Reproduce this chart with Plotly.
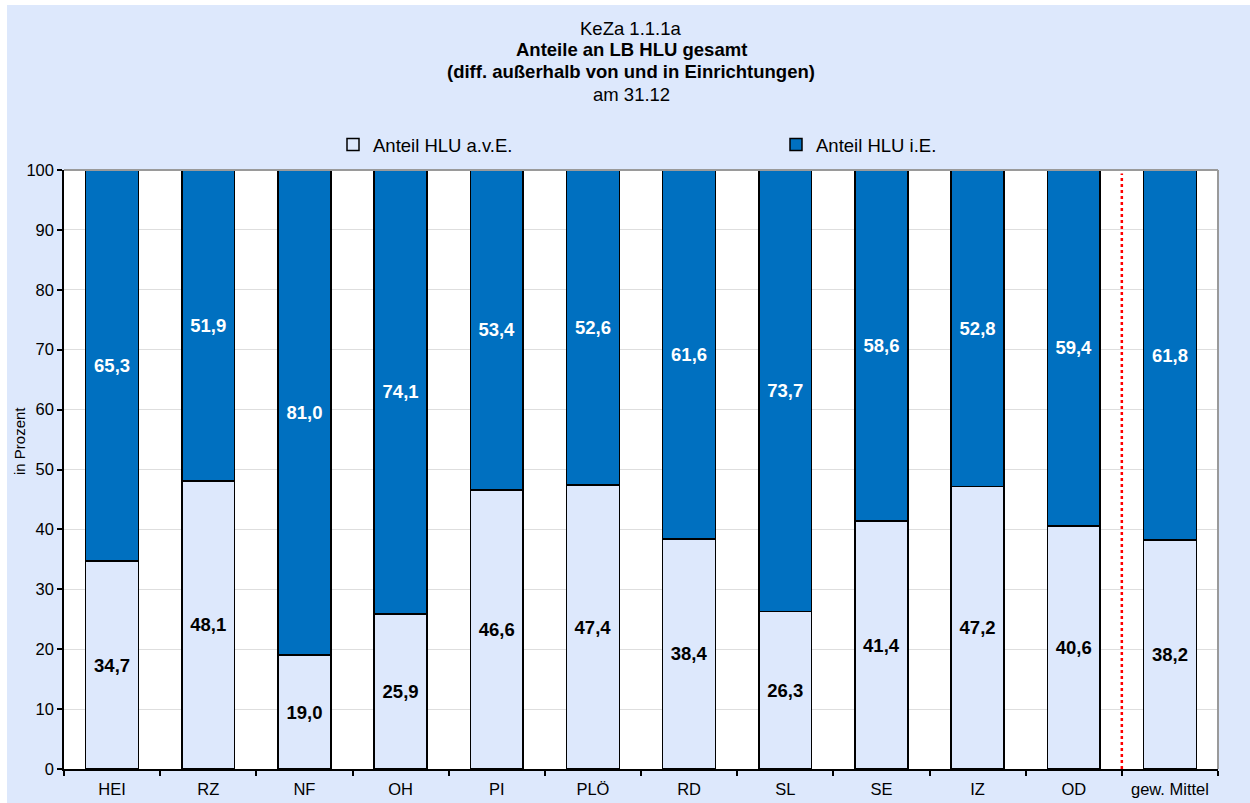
import plotly.graph_objects as go

# Kreise / Städte und gewichtetes Mittel
categories = ["HEI", "RZ", "NF", "OH", "PI", "PLÖ", "RD", "SL", "SE", "IZ", "OD", "gew. Mittel"]

# Anteile in Prozent
anteil_ave = [34.7, 48.1, 19.0, 25.9, 46.6, 47.4, 38.4, 26.3, 41.4, 47.2, 40.6, 38.2]
anteil_ie = [65.3, 51.9, 81.0, 74.1, 53.4, 52.6, 61.6, 73.7, 58.6, 52.8, 59.4, 61.8]

y_ticks = [0, 10, 20, 30, 40, 50, 60, 70, 80, 90, 100]

title_lines = [
    ("KeZa 1.1.1a", False),
    ("Anteile an LB HLU gesamt", True),
    ("(diff. außerhalb von und in Einrichtungen)", True),
    ("am 31.12", False),
]

BG = "#dde8fc"
BLUE = "#0070c0"
FONT = "Arial, Liberation Sans, sans-serif"

W, H = 1250, 803
M_L, M_R, M_T, M_B = 64, 32, 170, 34
PW, PH = W - M_L - M_R, H - M_T - M_B


def px_x(px):
    """Pixel-x auf Papierkoordinate der Zeichenfläche."""
    return (px - M_L) / PW


def px_y(py):
    """Pixel-y (von oben) auf Papierkoordinate der Zeichenfläche."""
    return (H - M_B - py) / PH


fig = go.Figure()

fig.add_trace(go.Bar(
    name="Anteil HLU a.v.E.",
    x=categories,
    y=anteil_ave,
    legend="legend",
    marker=dict(color=BG, line=dict(color="#000000", width=1.5)),
    texttemplate="%{y:.1f}",
    textposition="inside",
    insidetextanchor="middle",
    textangle=0,
    constraintext="none",
    textfont=dict(family=FONT, size=18.5, color="#000000", weight="bold"),
))

fig.add_trace(go.Bar(
    name="Anteil HLU i.E.",
    x=categories,
    y=anteil_ie,
    legend="legend2",
    marker=dict(color=BLUE, line=dict(color="#000000", width=1.5)),
    texttemplate="%{y:.1f}",
    textposition="inside",
    insidetextanchor="middle",
    textangle=0,
    constraintext="none",
    textfont=dict(family=FONT, size=18.5, color="#ffffff", weight="bold"),
))

# Trennlinie vor dem gewichteten Mittel
sep_x = len(categories) - 1.5
shapes = [
    dict(type="line", xref="x", yref="y", x0=sep_x, x1=sep_x, y0=0, y1=99.4,
         line=dict(color="#ff0000", width=2.5, dash="dot"), layer="above"),
    # Rahmen oben und rechts
    dict(type="line", xref="paper", yref="paper", x0=0, x1=1, y0=1, y1=1,
         line=dict(color="#9a9a9a", width=2), layer="above"),
    dict(type="line", xref="paper", yref="paper", x0=1, x1=1, y0=0, y1=1,
         line=dict(color="#9a9a9a", width=2), layer="above"),
    # weißer Rand links und oben
    dict(type="rect", xref="paper", yref="paper", x0=px_x(-10), x1=px_x(7), y0=px_y(H + 10), y1=px_y(-10),
         line=dict(width=0), fillcolor="#ffffff", layer="above"),
    dict(type="rect", xref="paper", yref="paper", x0=px_x(-10), x1=px_x(W + 10), y0=px_y(5), y1=px_y(-10),
         line=dict(width=0), fillcolor="#ffffff", layer="above"),
]

annotations = []
title_y = [28, 50, 71, 94]
for (txt, bold), ty in zip(title_lines, title_y):
    annotations.append(dict(
        text=f"<b>{txt}</b>" if bold else txt,
        xref="paper", yref="paper", x=px_x(631), y=px_y(ty),
        xanchor="center", yanchor="middle", showarrow=False,
        font=dict(family=FONT, size=18.5, color="#000000"),
    ))

# Achsentitel
annotations.append(dict(
    text="in Prozent", textangle=-90,
    xref="paper", yref="paper", x=px_x(19), y=px_y(441),
    xanchor="center", yanchor="middle", showarrow=False,
    font=dict(family=FONT, size=15, color="#000000"),
))

legend_common = dict(
    orientation="h", yanchor="middle", xanchor="left",
    bgcolor="rgba(0,0,0,0)",
    font=dict(family=FONT, size=18.5, color="#000000"),
)

fig.update_layout(
    width=W,
    height=H,
    margin=dict(l=M_L, r=M_R, t=M_T, b=M_B, pad=0, autoexpand=False),
    paper_bgcolor=BG,
    plot_bgcolor="#ffffff",
    barmode="stack",
    bargap=0.45,
    separators=",.",
    font=dict(family=FONT, size=16, color="#000000"),
    legend=dict(x=px_x(333), y=px_y(145), **legend_common),
    legend2=dict(x=px_x(776), y=px_y(145), **legend_common),
    shapes=shapes,
    annotations=annotations,
    showlegend=True,
)

fig.update_xaxes(
    type="category",
    automargin=False,
    showline=True, linecolor="#000000", linewidth=1.5,
    ticks="outside", tickson="boundaries", ticklen=5, tickcolor="#000000", tickwidth=1.5,
    tickfont=dict(family=FONT, size=16.5, color="#000000"),
    ticklabelstandoff=4,
    showgrid=False,
)

fig.update_yaxes(
    range=[0, 100],
    automargin=False,
    tickvals=y_ticks,
    showline=True, linecolor="#000000", linewidth=1.5,
    ticks="outside", ticklen=5, tickcolor="#000000", tickwidth=1.5,
    tickfont=dict(family=FONT, size=16.5, color="#000000"),
    showgrid=True, gridcolor="#dedede", gridwidth=1,
    zeroline=False,
)

fig.write_html("out.html")
